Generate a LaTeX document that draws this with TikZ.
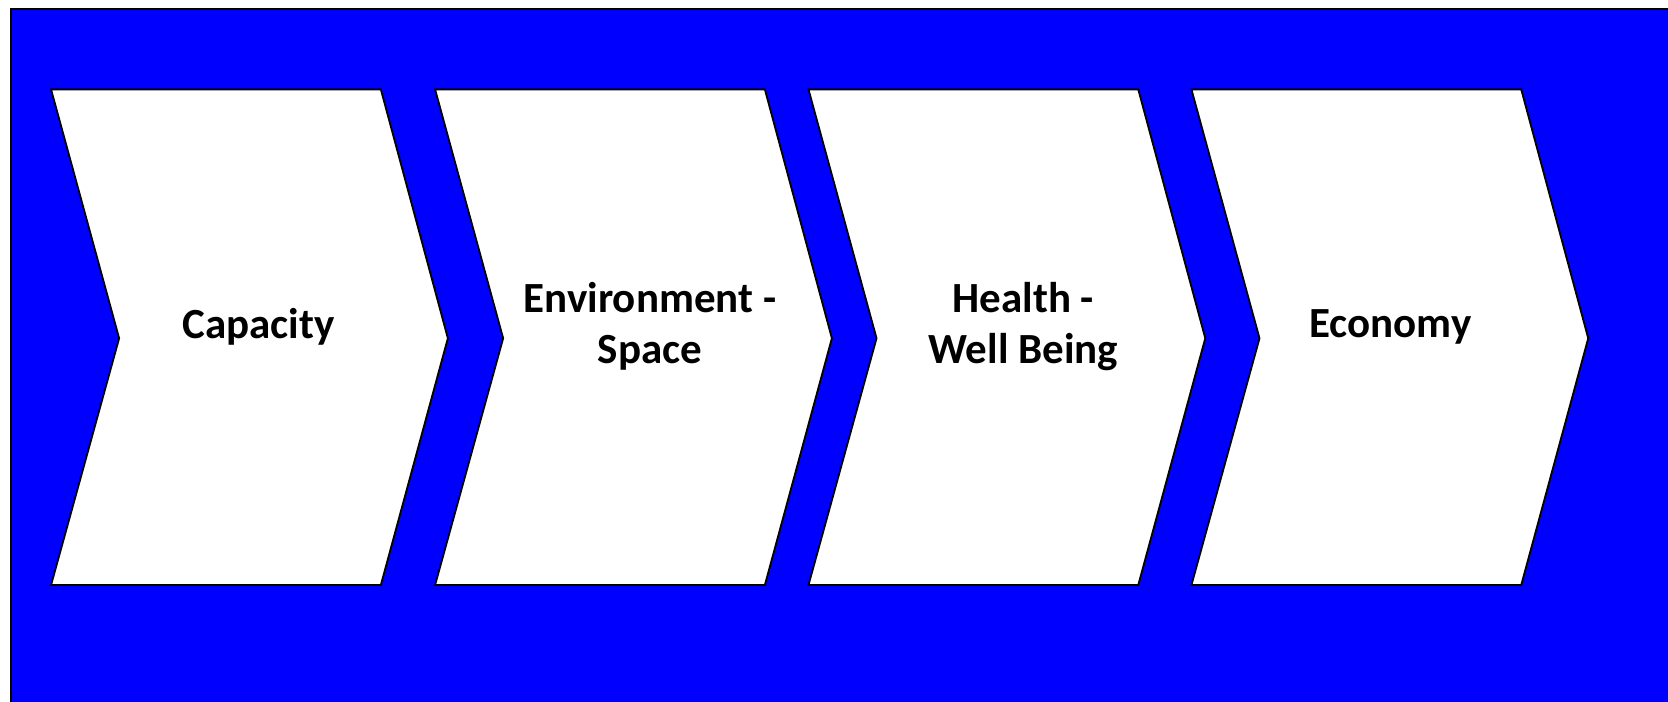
\documentclass[tikz,border=0pt]{standalone}
\usepackage{fontspec}
\setmainfont{Carlito}
\begin{document}
\begin{tikzpicture}[x=1.06378pt,y=-1.06378pt,
  chev/.style={draw=black,fill=white,line width=1.8pt,line join=miter},
  lbl/.style={font=\fontsize{43}{51}\selectfont\bfseries,align=center,text=black}]
\useasboundingbox (0,0) rectangle (1568,659);
\fill[white] (0,0) rectangle (1568,659);
\draw[fill={rgb,255:red,0;green,0;blue,255},draw=black,line width=2.5pt] (10.4,8.5) rectangle (1600,700);
\foreach \x in {48,409,760,1120}{
  \draw[chev] (\x,84) -- (\x+310,84) -- (\x+373,318) -- (\x+310,550) -- (\x,550) -- (\x+64,318) -- cycle;
}
\node[lbl] (cap) at (243,307) {Capacity};
\node[lbl] (env) at (611,307) {Environment -\\Space};
\node[lbl] (hea) at (962,307) {Health -\\Well Being};
\node[lbl] (eco) at (1307,307) {Economy};
\end{tikzpicture}
\end{document}
